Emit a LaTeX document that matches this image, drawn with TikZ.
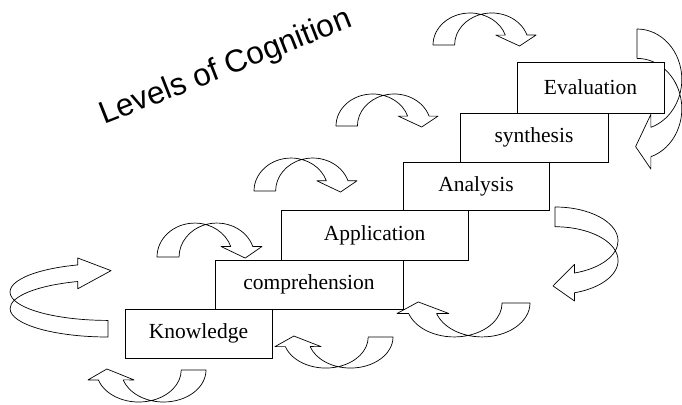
\documentclass[tikz,border=0pt]{standalone}
\usepackage{fontspec}
\setmainfont{Liberation Serif}
\newfontfamily\titlefont{Liberation Sans}
\usepackage{tikz,xcolor}

% one bent band arrow, tail at (0,0), head at right pointing down
\newcommand{\bentband}[1]{%
  \draw[arrowband, #1] (0,0)
    arc[start angle=180, end angle=18, x radius=36pt, y radius=32pt]
    -- (61,-9.9) -- (84,1) -- (100,-9.9) -- (91.24,-9.9)
    arc[start angle=18, end angle=180, x radius=36pt, y radius=32pt]
    -- cycle;}

\begin{document}
\begin{tikzpicture}[x=1pt, y=-1pt,
  levelbox/.style={draw, fill=white, line width=0.7pt, inner sep=0pt,
    minimum height=49pt, font=\fontsize{21.5}{25}\selectfont},
  arrowband/.style={fill=white, line width=0.7pt, line join=round}]

\useasboundingbox (0,0) rectangle (682,404);

% ── bent arrows (behind the steps) ──────────────────────────────
\bentband{shift={(433,45)}, xscale=1.03}
\bentband{shift={(336,126)}, xscale=1.02}
\bentband{shift={(254,191)}, xscale=1.03, yscale=1.03}
\bentband{shift={(157,257)}, xscale=1.05, yscale=1.06}

\bentband{shift={(206,370)}, rotate=180, xscale=1.18}
\bentband{shift={(393,337)}, rotate=180, xscale=1.18, yscale=0.97}
\bentband{shift={(530,303)}, rotate=180, xscale=1.33, yscale=1.06}

\bentband{shift={(108,337)}, rotate=90, xscale=0.79, yscale=3.06}
\bentband{shift={(637,29)}, rotate=-90, xscale=1.4, yscale=1.4}
\bentband{shift={(555,207)}, rotate=-90, xscale=0.94, yscale=1.97}

% ── steps ───────────────────────────────────────────────────────
\node[levelbox, minimum width=147pt] (know) at (198.5,333.5) {Knowledge};
\node[levelbox, minimum width=188pt] (comp) at (309,284.5) {comprehension};
\node[levelbox, minimum width=187pt, minimum height=50pt] (appl) at (374.5,235) {Application};
\node[levelbox, minimum width=146pt, minimum height=48pt] (anal) at (476,186) {Analysis};
\node[levelbox, minimum width=148pt] (synt) at (534,137.5) {synthesis};
\node[levelbox, minimum width=147pt, minimum height=51pt] (eval) at (590.5,87.5) {Evaluation};

% Title
\node[rotate=21.5, font=\titlefont\fontsize{31.5}{36}\selectfont] (title) at (226,68) {Levels of Cognition};

\end{tikzpicture}
\end{document}
